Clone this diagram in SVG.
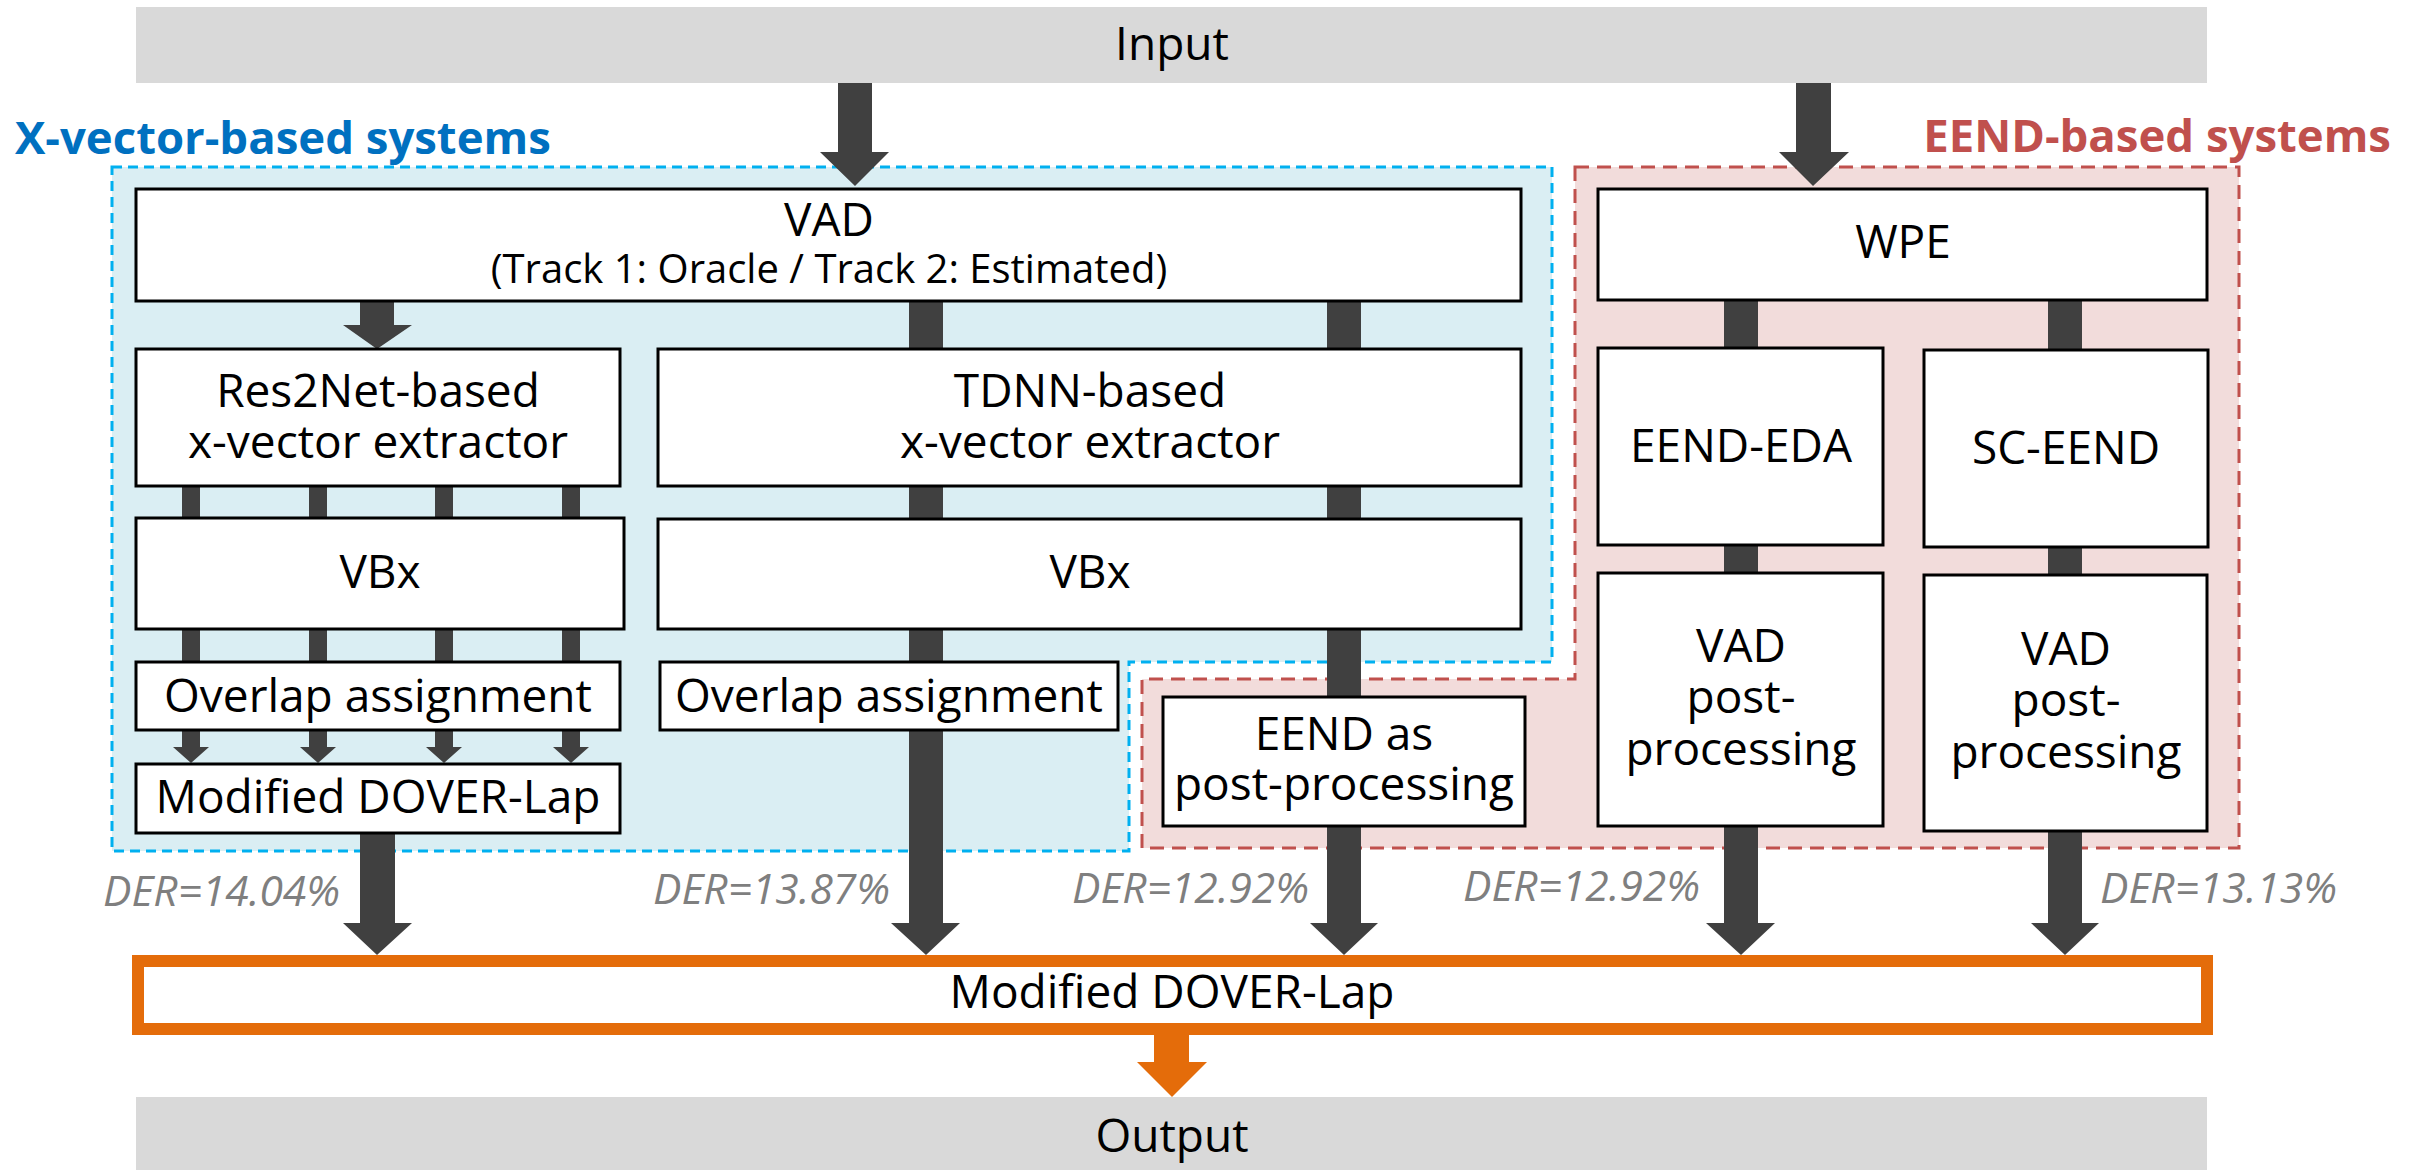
<svg xmlns="http://www.w3.org/2000/svg" width="2415" height="1170" viewBox="0 0 2415 1170">
  <style>
    text { font-family: "Open Sans", "Noto Sans", "DejaVu Sans", sans-serif; fill: #000; }
    .lbl { font-size: 46px; text-anchor: middle; }
    .sub { font-size: 40px; }
    .der { font-size: 42.5px; font-style: italic; fill: #7F7F7F; }
    .grp { font-size: 45.5px; font-weight: bold; }
    .box { fill: #FFFFFF; stroke: #000000; stroke-width: 3; }
    .io { fill: #D9D9D9; }
    .link { fill: #404040; }
    .out { fill: #E46C0A; }
  </style>

  <!-- system regions -->
  <g id="xvector-region">
    <path d="M112,167 H1552 V662 H1129 V851 H112 Z" fill="#DAEEF3" stroke="#00B0F0" stroke-width="3" stroke-dasharray="10 6"/>
    <text class="grp" x="15" y="154" style="fill:#0070C0">X-vector-based systems</text>
  </g>
  <g id="eend-region">
    <path d="M1575,167 H2239 V848 H1142 V679 H1575 Z" fill="#F2DCDB" stroke="#C0504D" stroke-width="3" stroke-dasharray="14 8"/>
    <text class="grp" x="2391" y="152" text-anchor="end" style="fill:#C0504D">EEND-based systems</text>
  </g>

  <!-- connectors -->
  <g id="connectors">
    <!-- Input -> VAD -->
    <path class="link" d="M838,83 H872 V152 H889 L855,186 L820,152 H838 Z"/>
    <!-- Input -> WPE -->
    <path class="link" d="M1796,83 H1831 V152 H1849 L1813,186 L1779,152 H1796 Z"/>
    <!-- VAD -> Res2Net extractor -->
    <path class="link" d="M360,301 H394 V325 H412 L377,349 L343,325 H360 Z"/>
    <!-- Res2Net branch: four streams down to the local DOVER-Lap -->
    <path class="link" d="M182,486 H200 V747 H209 L191,763 L173,747 H182 Z"/>
    <path class="link" d="M309,486 H327 V747 H336 L318,763 L300,747 H309 Z"/>
    <path class="link" d="M435,486 H453 V747 H462 L444,763 L426,747 H435 Z"/>
    <path class="link" d="M562,486 H580 V747 H589 L571,763 L553,747 H562 Z"/>
    <!-- local DOVER-Lap -> final DOVER-Lap -->
    <path class="link" d="M360,833 H395 V923 H412 L377,955 L343,923 H360 Z"/>
    <!-- TDNN column -->
    <path class="link" d="M909,301 H943 V923 H960 L926,955 L891,923 H909 Z"/>
    <!-- VAD -> EEND as post-processing column -->
    <path class="link" d="M1327,301 H1361 V923 H1378 L1344,955 L1310,923 H1327 Z"/>
    <!-- WPE -> EEND-EDA column -->
    <path class="link" d="M1724,300 H1758 V923 H1775 L1741,955 L1706,923 H1724 Z"/>
    <!-- WPE -> SC-EEND column -->
    <path class="link" d="M2048,300 H2082 V923 H2099 L2065,955 L2031,923 H2048 Z"/>
    <!-- final DOVER-Lap -> Output -->
    <path class="out" d="M1154,1034 H1189 V1062 H1207 L1172,1097 L1137,1062 H1154 Z"/>
  </g>

  <!-- error rates of each system -->
  <g id="der-labels">
    <text class="der" x="103" y="906">DER=14.04%</text>
    <text class="der" x="653" y="904">DER=13.87%</text>
    <text class="der" x="1072" y="903">DER=12.92%</text>
    <text class="der" x="1463" y="901">DER=12.92%</text>
    <text class="der" x="2100" y="903">DER=13.13%</text>
  </g>

  <!-- nodes -->
  <g id="input">
    <rect class="io" x="136" y="7" width="2071" height="76"/>
    <text class="lbl" x="1172" y="60">Input</text>
  </g>
  <g id="vad">
    <rect class="box" x="136" y="189" width="1385" height="112"/>
    <text class="lbl" x="829" y="236">VAD<tspan class="sub" x="829" dy="47">(Track 1: Oracle / Track 2: Estimated)</tspan></text>
  </g>
  <g id="res2net">
    <rect class="box" x="136" y="349" width="484" height="137"/>
    <text class="lbl" x="378" y="407">Res2Net-based<tspan x="378" dy="51">x-vector extractor</tspan></text>
  </g>
  <g id="tdnn">
    <rect class="box" x="658" y="349" width="863" height="137"/>
    <text class="lbl" x="1090" y="407">TDNN-based<tspan x="1090" dy="51">x-vector extractor</tspan></text>
  </g>
  <g id="vbx-res2net">
    <rect class="box" x="136" y="518" width="488" height="111"/>
    <text class="lbl" x="380" y="588">VBx</text>
  </g>
  <g id="vbx-tdnn">
    <rect class="box" x="658" y="519" width="863" height="110"/>
    <text class="lbl" x="1090" y="588">VBx</text>
  </g>
  <g id="overlap-res2net">
    <rect class="box" x="136" y="662" width="484" height="68"/>
    <text class="lbl" x="378" y="712">Overlap assignment</text>
  </g>
  <g id="overlap-tdnn">
    <rect class="box" x="660" y="662" width="458" height="68"/>
    <text class="lbl" x="889" y="712">Overlap assignment</text>
  </g>
  <g id="dover-res2net">
    <rect class="box" x="136" y="764" width="484" height="69"/>
    <text class="lbl" x="378" y="813">Modified DOVER-Lap</text>
  </g>
  <g id="eend-pp">
    <rect class="box" x="1163" y="697" width="362" height="129"/>
    <text class="lbl" x="1344" y="750">EEND as<tspan x="1344" dy="50">post-processing</tspan></text>
  </g>
  <g id="wpe">
    <rect class="box" x="1598" y="189" width="609" height="111"/>
    <text class="lbl" x="1903" y="258">WPE</text>
  </g>
  <g id="eend-eda">
    <rect class="box" x="1598" y="348" width="285" height="197"/>
    <text class="lbl" x="1741" y="462">EEND-EDA</text>
  </g>
  <g id="sc-eend">
    <rect class="box" x="1924" y="350" width="284" height="197"/>
    <text class="lbl" x="2066" y="464">SC-EEND</text>
  </g>
  <g id="vad-pp-eda">
    <rect class="box" x="1598" y="573" width="285" height="253"/>
    <text class="lbl" x="1741" y="662">VAD<tspan x="1741" dy="51">post-</tspan><tspan x="1741" dy="52">processing</tspan></text>
  </g>
  <g id="vad-pp-sc">
    <rect class="box" x="1924" y="575" width="283" height="256"/>
    <text class="lbl" x="2066" y="665">VAD<tspan x="2066" dy="51">post-</tspan><tspan x="2066" dy="52">processing</tspan></text>
  </g>
  <g id="dover-final">
    <rect x="138" y="961" width="2069" height="68" fill="#FFFFFF" stroke="#E46C0A" stroke-width="12"/>
    <text class="lbl" x="1172" y="1008">Modified DOVER-Lap</text>
  </g>
  <g id="output">
    <rect class="io" x="136" y="1097" width="2071" height="73"/>
    <text class="lbl" x="1172" y="1152">Output</text>
  </g>
</svg>
